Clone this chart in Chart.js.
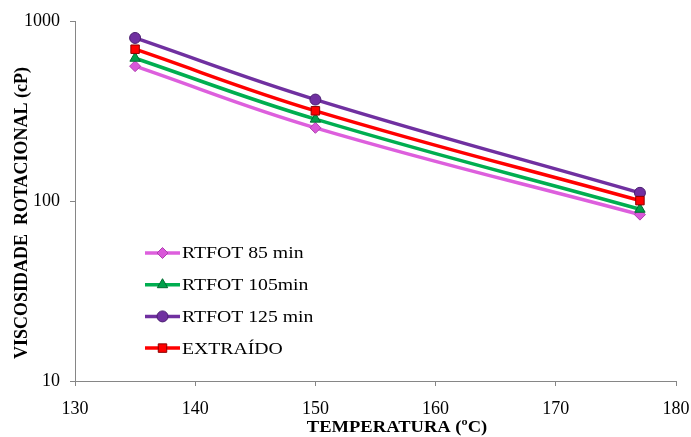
<!DOCTYPE html>
<html>
<head>
<meta charset="utf-8">
<script src="https://cdn.jsdelivr.net/npm/chart.js@4/dist/chart.umd.min.js"></script>
<style>
  html, body { margin: 0; padding: 0; background: #fff; }
  #wrap { width: 691px; height: 437px; position: relative; }
</style>
</head>
<body>
<div id="wrap"><canvas id="visc_chart" width="691" height="437"></canvas></div>
<script>
// temperatures (ºC) and viscosity (cP)
var temperatura = [135, 150, 177];
var rtfot85 = [561, 255, 84];
var rtfot105 = [621, 285, 90];
var rtfot125 = [805, 366, 111];
var extraido = [697, 317, 100.5];
var seriesNames = ["RTFOT 85 min", "RTFOT 105min", "RTFOT 125 min", "EXTRAÍDO"];
var yTicks = [10, 100, 1000];
var xTitle = "TEMPERATURA (ºC)";
var yTitle = "VISCOSIDADE  ROTACIONAL (cP)";

function pts(vals) {
    var out = [];
    for (var i = 0; i < vals.length; i++) {
        out.push({x: temperatura[i], y: vals[i]});
    }
    return out;
}

// the source text is a bit wider than the font, so stretch it sideways
function wideText(ctx, txt, x, y, sx, align) {
    ctx.save();
    ctx.translate(x, y);
    ctx.scale(sx, 1);
    ctx.textAlign = align;
    ctx.fillText(txt, 0, 0);
    ctx.restore();
}

// legend inside the plot + axis titles
var extras = {
    id: "extras",
    afterDraw: function(chart) {
        var ctx = chart.ctx;
        var sets = chart.data.datasets;
        var x0 = 145, x1 = 180, y = 253;
        ctx.save();
        for (var i = 0; i < sets.length; i++) {
            var ds = sets[i];
            ctx.strokeStyle = ds.borderColor;
            ctx.lineWidth = 3.5;
            ctx.beginPath();
            ctx.moveTo(x0, y);
            ctx.lineTo(x1, y);
            ctx.stroke();
            ctx.fillStyle = ds.pointBackgroundColor;
            ctx.strokeStyle = ds.pointBorderColor;
            ctx.lineWidth = 1;
            Chart.helpers.drawPoint(ctx, {pointStyle: ds.pointStyle, radius: ds.pointRadius, rotation: 0, borderWidth: 1}, (x0 + x1) / 2, y);
            ctx.fillStyle = "#000";
            ctx.font = "17px 'Liberation Serif'";
            ctx.textBaseline = "middle";
            wideText(ctx, ds.label, x1 + 2, y + 1, 1.16, "left");
            y += 31.7;
        }
        ctx.fillStyle = "#000";
        ctx.textBaseline = "middle";
        ctx.font = "bold 17.5px 'Liberation Serif'";
        wideText(ctx, xTitle, 397, 427, 1.06, "center");
        ctx.font = "bold 18px 'Liberation Serif'";
        ctx.translate(22, 213);
        ctx.rotate(-Math.PI / 2);
        ctx.textAlign = "center";
        ctx.fillText(yTitle, 0, 0);
        ctx.restore();
    }
};

var ctx1 = document.getElementById("visc_chart").getContext("2d");
var myChart = new Chart(ctx1, {
    type: "line",
    data: {
        datasets: [{
            label: seriesNames[0],
            data: pts(rtfot85),
            borderColor: "#DD5FDD",
            pointBackgroundColor: "#D957D9",
            pointBorderColor: "#B040B0",
            pointStyle: "rectRot",
            pointRadius: 5.5,
            order: 4
        }, {
            label: seriesNames[1],
            data: pts(rtfot105),
            borderColor: "#00AE50",
            pointBackgroundColor: "#00A04A",
            pointBorderColor: "#006B30",
            pointStyle: "triangle",
            pointRadius: 6,
            order: 3
        }, {
            label: seriesNames[2],
            data: pts(rtfot125),
            borderColor: "#7030A0",
            pointBackgroundColor: "#7030A0",
            pointBorderColor: "#4A1E70",
            pointStyle: "circle",
            pointRadius: 5.5,
            order: 2
        }, {
            label: seriesNames[3],
            data: pts(extraido),
            borderColor: "#FF0000",
            pointBackgroundColor: "#FF0000",
            pointBorderColor: "#8B0000",
            pointStyle: "rect",
            pointRadius: 6,
            order: 1
        }]
    },
    options: {
        responsive: false,
        animation: false,
        layout: { padding: { top: 21, right: 15, left: 0, bottom: 0 } },
        elements: {
            line: { borderWidth: 3.5, tension: 0.4, fill: false },
            point: { borderWidth: 1 }
        },
        plugins: {
            legend: { display: false },
            tooltip: { enabled: false }
        },
        scales: {
            x: {
                type: "linear",
                min: 130,
                max: 180,
                ticks: { stepSize: 10, color: "#000", padding: 12, font: { family: "'Liberation Serif'", size: 18 } },
                grid: { drawOnChartArea: false, tickLength: 5, color: "#868686" },
                border: { color: "#868686", width: 1 },
                title: { display: false },
                afterFit: function(scale) {
                    scale.height = 56;
                    scale.paddingLeft = 0;
                    scale.paddingRight = 0;
                }
            },
            y: {
                type: "logarithmic",
                min: 10,
                max: 1000,
                afterBuildTicks: function(scale) {
                    scale.ticks = yTicks.map(function(v) { return {value: v}; });
                },
                ticks: {
                    color: "#000",
                    padding: 10,
                    font: { family: "'Liberation Serif'", size: 18 },
                    callback: function(v) { return String(v); }
                },
                grid: { drawOnChartArea: false, tickLength: 5, color: "#868686" },
                border: { color: "#868686", width: 1 },
                title: { display: false },
                afterFit: function(scale) { scale.width = 75; }
            }
        }
    },
    plugins: [extras]
});
</script>
</body>
</html>
